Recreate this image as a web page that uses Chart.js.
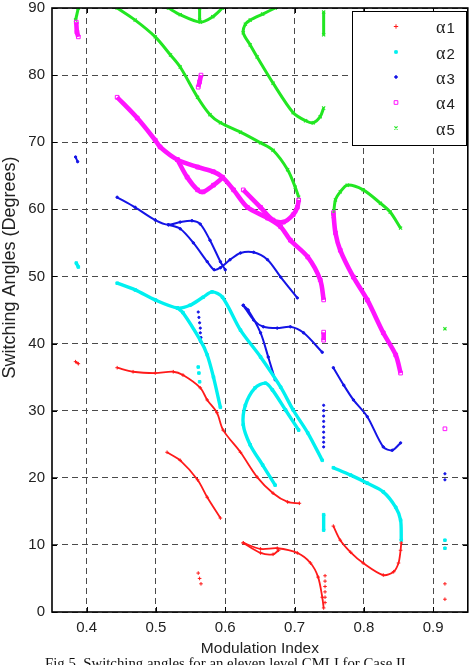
<!DOCTYPE html>
<html><head><meta charset="utf-8">
<script src="https://cdn.jsdelivr.net/npm/chart.js@4/dist/chart.umd.min.js"></script>
<style>
html,body{margin:0;padding:0;background:#fff;overflow:hidden;}
#wrap{position:relative;width:473px;height:665px;}
#caption{position:absolute;left:45px;top:656px;font-family:'Liberation Serif','Times New Roman',serif;font-size:14.8px;line-height:15px;white-space:nowrap;color:#111;}
</style></head><body>
<div id="wrap"><canvas id="c" width="473" height="665"></canvas>
<div id="caption">Fig.5. Switching angles for an eleven level CMLI for Case II</div></div>
<script>
// ---------- data ----------
const xTicks = [0.4, 0.5, 0.6, 0.7, 0.8, 0.9];
const yTicks = [0, 10, 20, 30, 40, 50, 60, 70, 80, 90];
const seriesNames = ['α1', 'α2', 'α3', 'α4', 'α5'];
const xTitle = 'Modulation Index';
const yTitle = 'Switching Angles (Degrees)';

// alpha1 (red)
const a1Lines = [
  [[0.444,36.4],[0.467,35.8],[0.499,35.6],[0.525,35.8],[0.539,35.3],[0.564,33.4],[0.574,31.6],[0.588,29.7],[0.597,27.1],[0.622,23.8],[0.646,20.1],[0.669,17.7],[0.690,16.4],[0.707,16.2]],
  [[0.516,23.8],[0.535,22.6],[0.560,19.7],[0.574,17.1],[0.593,14.0]],
  [[0.626,10.3],[0.651,9.4],[0.675,9.5],[0.704,8.8],[0.723,7.3],[0.734,5.2],[0.740,2.2],[0.742,0.6]],
  [[0.626,10.3],[0.651,8.8],[0.669,8.6],[0.677,9.2]],
  [[0.756,12.8],[0.766,10.7],[0.781,8.9],[0.799,7.3],[0.828,5.5],[0.843,6.0],[0.850,7.3],[0.853,9.2],[0.854,10.3]],
  [[0.384,37.3],[0.388,37.0]]
];
const a1Dots = [[0.744,5.4],[0.744,4.6],[0.744,3.8],[0.744,3.0],[0.744,2.2],[0.744,1.4],[0.917,4.2],[0.917,1.9],[0.561,5.8],[0.563,5.0],[0.565,4.2]];

// alpha2 (cyan)
const a2Lines = [
  [[0.444,49.0],[0.470,48.0],[0.499,46.5],[0.531,45.3],[0.549,45.7],[0.568,46.9],[0.581,47.7],[0.596,46.9],[0.622,42.0],[0.651,38.0],[0.680,33.5],[0.698,30.1],[0.719,26.7],[0.740,22.6]],
  [[0.531,45.3],[0.539,44.6],[0.564,40.5],[0.574,38.3],[0.583,35.0],[0.593,30.5]],
  [[0.706,27.1],[0.687,30.1],[0.668,33.1],[0.658,34.1],[0.643,33.4],[0.629,30.8],[0.626,27.9],[0.636,24.9],[0.654,21.9],[0.672,18.9]],
  [[0.756,21.5],[0.781,20.4],[0.805,19.2],[0.828,17.9],[0.846,15.6],[0.853,13.7],[0.854,10.7]],
  [[0.742,14.5],[0.742,12.2]],
  [[0.385,52.0],[0.388,51.4]]
];
const a2Dots = [[0.561,36.5],[0.562,35.6],[0.563,34.3],[0.917,10.7],[0.917,9.5]];

// alpha3 (blue)
const a3Lines = [
  [[0.444,61.8],[0.470,60.3],[0.499,58.4],[0.518,57.7],[0.535,58.1],[0.552,58.3],[0.564,57.8],[0.578,55.4],[0.593,52.2],[0.600,51.0]],
  [[0.518,57.7],[0.535,57.1],[0.554,55.0],[0.574,52.2],[0.584,51.0],[0.593,51.3],[0.607,52.5],[0.622,53.5],[0.641,53.6],[0.661,52.5],[0.680,49.9],[0.704,46.8]],
  [[0.626,45.7],[0.641,43.5],[0.655,42.5],[0.675,42.3],[0.694,42.5],[0.713,41.6],[0.740,38.7]],
  [[0.626,45.7],[0.633,45.0],[0.651,41.6],[0.662,38.0],[0.672,34.6]],
  [[0.756,36.4],[0.771,33.8],[0.785,31.6],[0.805,29.1],[0.828,24.6],[0.841,24.1],[0.853,25.2]],
  [[0.384,67.8],[0.387,67.1]]
];
const a3Dots = [[0.561,44.7],[0.562,43.9],[0.563,43.1],[0.564,42.3],[0.564,41.6],[0.565,40.9],[0.565,40.2],
  [0.742,30.8],[0.742,30.0],[0.742,29.2],[0.742,28.4],[0.742,27.6],[0.742,26.8],[0.742,26.0],[0.742,25.3],[0.742,24.6],
  [0.917,20.6],[0.917,19.7]];

// alpha4 (magenta)
const a4Lines = [
  [[0.444,76.7],[0.473,73.6],[0.499,70.3],[0.506,69.3],[0.531,67.4],[0.560,66.3],[0.583,65.6],[0.596,64.8],[0.612,62.9],[0.632,60.3],[0.661,58.7],[0.680,57.4],[0.694,55.4],[0.719,52.9],[0.737,49.5],[0.742,46.5]],
  [[0.531,67.4],[0.545,64.8],[0.560,62.9],[0.568,62.6],[0.583,63.6],[0.596,64.7]],
  [[0.626,62.9],[0.651,60.3],[0.669,58.4],[0.684,58.1],[0.698,59.2],[0.704,60.3],[0.706,61.4]],
  [[0.756,59.5],[0.759,56.5],[0.766,53.9],[0.785,49.9],[0.805,46.5],[0.828,41.6],[0.846,38.3],[0.853,35.6]],
  [[0.385,87.9],[0.386,86.4],[0.388,85.7]],
  [[0.565,80.0],[0.563,79.0],[0.561,78.2]],
  [[0.742,41.7],[0.742,40.5]]
];
const a4Dots = [[0.917,27.3]];

// alpha5 (green)
const a5Lines = [
  [[0.388,90.0],[0.384,88.2]],
  [[0.444,90.0],[0.470,88.2],[0.499,85.7],[0.521,83.0],[0.535,81.2],[0.560,76.7],[0.578,74.1],[0.593,72.9],[0.622,71.5],[0.651,69.9],[0.669,68.8],[0.690,65.9],[0.701,63.3],[0.706,61.8]],
  [[0.518,90.0],[0.535,89.0],[0.564,87.9],[0.582,88.7],[0.596,90.0]],
  [[0.563,90.0],[0.563,88.2]],
  [[0.672,90.0],[0.654,89.1],[0.636,88.2],[0.629,87.6],[0.626,86.3],[0.636,84.5],[0.646,82.7],[0.669,78.8],[0.698,74.4],[0.716,73.2],[0.727,72.9],[0.737,73.8],[0.742,75.1]],
  [[0.742,89.4],[0.742,86.0]],
  [[0.756,58.9],[0.759,61.4],[0.766,62.6],[0.776,63.6],[0.799,62.9],[0.824,60.9],[0.838,59.6],[0.853,57.2]]
];
const a5Dots = [[0.917,42.2]];

// ---------- styles ----------
const styles = [
  {color:'#ff1a1a', width:1.8, pointStyle:'cross',    radius:1.8, dr:1.8, pbw:1,   fill:'#ff1a1a', lr:2.2},
  {color:'#00f0f0', width:3.4, pointStyle:'rect',     radius:1.8, dr:1.8, pbw:1,   fill:'#00f0f0', lr:1.8},
  {color:'#1414e6', width:2.0, pointStyle:'circle',   radius:1.2, dr:1.1, pbw:1,   fill:'#1414e6', lr:1.3},
  {color:'#ff14ff', width:4.6, pointStyle:'rect',     radius:2.6, dr:2.6, pbw:1,   fill:'rgba(0,0,0,0)', lr:2.6},
  {color:'#22e622', width:3.0, pointStyle:'crossRot', radius:2.2, dr:2.2, pbw:1.2, fill:'#22e622', lr:2.2}
];
const allLines = [a1Lines, a2Lines, a3Lines, a4Lines, a5Lines];
const allDots = [a1Dots, a2Dots, a3Dots, a4Dots, a5Dots];

const datasets = [];
allLines.forEach((segs, s) => {
  const st = styles[s];
  segs.forEach(seg => {
    datasets.push({
      label: seriesNames[s],
      data: seg.map(([x, y]) => ({x, y})),
      showLine: true, tension: 0.3,
      borderColor: st.color, borderWidth: st.width,
      pointStyle: st.pointStyle, pointRadius: st.radius,
      pointBorderColor: st.color, pointBackgroundColor: st.fill, pointBorderWidth: st.pbw
    });
  });
});
allDots.forEach((pts, s) => {
  const st = styles[s];
  datasets.push({
    label: seriesNames[s],
    data: pts.map(([x, y]) => ({x, y})),
    showLine: false,
    pointStyle: st.pointStyle, pointRadius: st.dr,
    pointBorderColor: st.color, pointBackgroundColor: st.fill, pointBorderWidth: st.pbw
  });
});

const TXT = '#222';
const framePlugin = {
  id: 'frame',
  afterDraw(chart) {
    const ctx = chart.ctx;
    const {left, top, right, bottom} = chart.chartArea;
    const xs = chart.scales.x, ys = chart.scales.y;
    ctx.save();
    ctx.setLineDash([]);
    ctx.strokeStyle = '#000';
    ctx.lineWidth = 1;
    xTicks.forEach(v => {
      const p = Math.round(xs.getPixelForValue(v)) + 0.5;
      ctx.beginPath(); ctx.moveTo(p, bottom); ctx.lineTo(p, bottom - 5);
      ctx.moveTo(p, top); ctx.lineTo(p, top + 5); ctx.stroke();
    });
    yTicks.forEach(v => {
      const p = Math.round(ys.getPixelForValue(v)) + 0.5;
      ctx.beginPath(); ctx.moveTo(left, p); ctx.lineTo(left + 5, p);
      ctx.moveTo(right, p); ctx.lineTo(right - 5, p); ctx.stroke();
    });
    ctx.lineWidth = 1.6;
    ctx.strokeRect(left, top, right - left, bottom - top);

    // y axis title
    ctx.save();
    ctx.translate(10, 267.5);
    ctx.rotate(-Math.PI / 2);
    ctx.font = '18px "Liberation Sans", Arial, sans-serif';
    ctx.fillStyle = TXT;
    ctx.textAlign = 'center';
    ctx.textBaseline = 'middle';
    ctx.fillText(yTitle, 0, 0);
    ctx.restore();

    // legend
    const bx = 352, by = 11, bw = 114, bh = 134;
    ctx.fillStyle = '#fff';
    ctx.fillRect(bx, by, bw, bh);
    ctx.strokeStyle = '#000';
    ctx.lineWidth = 1;
    ctx.strokeRect(bx + 0.5, by + 0.5, bw, bh);
    const rows = [26.5, 52, 77, 102.5, 128];
    seriesNames.forEach((name, i) => {
      const st = styles[i];
      ctx.save();
      ctx.strokeStyle = st.color;
      ctx.fillStyle = st.fill;
      ctx.lineWidth = st.pbw;
      Chart.helpers.drawPoint(ctx, {pointStyle: st.pointStyle, radius: st.lr, borderWidth: st.pbw, rotation: 0}, 396, rows[i]);
      ctx.restore();
      ctx.fillStyle = TXT;
      ctx.textBaseline = 'alphabetic';
      ctx.textAlign = 'left';
      ctx.font = '18px "Liberation Serif", "Times New Roman", serif';
      ctx.fillText(name.charAt(0), 436, rows[i] + 6.5);
      const aw = ctx.measureText(name.charAt(0)).width;
      ctx.font = '15px "Liberation Sans", Arial, sans-serif';
      ctx.fillText(name.slice(1), 436 + aw + 1, rows[i] + 6.5);
    });
    ctx.restore();
  }
};

new Chart(document.getElementById('c'), {
  type: 'scatter',
  data: {datasets},
  options: {
    responsive: false, animation: false, devicePixelRatio: 1,
    layout: {padding: {left: 0, top: 8, right: 3, bottom: 0}},
    plugins: {legend: {display: false}, tooltip: {enabled: false}},
    scales: {
      x: {
        type: 'linear', min: 0.35, max: 0.95,
        afterBuildTicks: s => { s.ticks = xTicks.map(v => ({value: v})); },
        afterFit: s => { s.height = 53; s.paddingLeft = 0; s.paddingRight = 0; },
        grid: {color: '#4a4a4a', lineWidth: 1, drawTicks: false},
        border: {display: false, dash: [6, 4]},
        ticks: {padding: 7, color: TXT, font: {family: '"Liberation Sans", Arial, sans-serif', size: 15},
                callback: v => Number(v).toFixed(1), maxRotation: 0, autoSkip: false},
        title: {display: true, text: xTitle, color: TXT, padding: {top: 0, bottom: 7},
                font: {family: '"Liberation Sans", Arial, sans-serif', size: 15.5}}
      },
      y: {
        type: 'linear', min: 0, max: 90,
        afterBuildTicks: s => { s.ticks = yTicks.map(v => ({value: v})); },
        afterFit: s => { s.width = 52; s.paddingTop = 0; s.paddingBottom = 0; },
        grid: {color: '#4a4a4a', lineWidth: 1, drawTicks: false},
        border: {display: false, dash: [6, 4]},
        ticks: {padding: 7, color: TXT, font: {family: '"Liberation Sans", Arial, sans-serif', size: 15},
                callback: v => String(v), autoSkip: false}
      }
    }
  },
  plugins: [framePlugin]
});
</script>
</body></html>
